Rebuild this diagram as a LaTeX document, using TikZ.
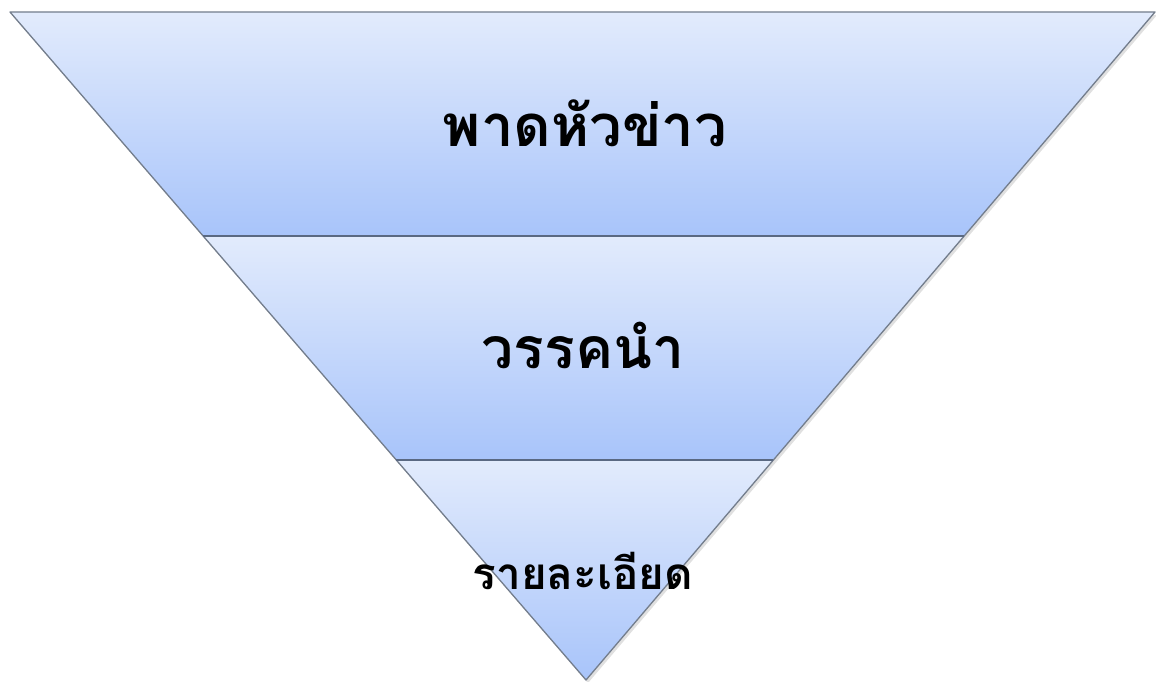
\documentclass[tikz,border=0pt]{standalone}
\usepackage{fontspec}
\newfontfamily\thaifont[Script=Thai]{Loma}
\usetikzlibrary{calc}

\begin{document}
\begin{tikzpicture}[x=1pt, y=-1pt,
  band/.style={top color={rgb,255:red,226;green,235;blue,252}, bottom color={rgb,255:red,168;green,196;blue,250}},
  edge/.style={draw={rgb,255:red,115;green,125;blue,140}, line width=1.3pt},
  cut/.style={draw={rgb,255:red,90;green,105;blue,130}, line width=1.6pt},
  label/.style={font=\thaifont\bfseries\fontsize{58}{60}\selectfont, inner sep=0pt}]
\useasboundingbox (0,0) rectangle (1156,682);
\coordinate (TL) at (10,12);
\coordinate (TR) at (1155,12);
\coordinate (O) at (586,680);
\coordinate (L1) at ($(TL)!0.3353!(O)$);
\coordinate (R1) at ($(TR)!0.3353!(O)$);
\coordinate (L2) at ($(TL)!0.6707!(O)$);
\coordinate (R2) at ($(TR)!0.6707!(O)$);
% shadow
\fill[black!12] ($(TL)+(2,3)$) -- ($(TR)+(2,3)$) -- ($(O)+(2,3)$) -- cycle;
% bands
\shade[band] (TL) -- (TR) -- (R1) -- (L1) -- cycle;
\shade[band] (L1) -- (R1) -- (R2) -- (L2) -- cycle;
\shade[band] (L2) -- (R2) -- (O) -- cycle;
\draw[edge, line join=round] (TL) -- (TR) -- (O) -- cycle;
\draw[cut] (L1) -- (R1);
\draw[cut] (L2) -- (R2);
\node[label] (head) at (585,123) {พาดหัวข่าว};
\node[label, font=\thaifont\bfseries\fontsize{57}{60}\selectfont] (lead) at (583,345) {วรรคนำ};
\node[label, font=\thaifont\bfseries\fontsize{44}{46}\selectfont] (body) at (583,571) {รายละเอียด};
\end{tikzpicture}
\end{document}
